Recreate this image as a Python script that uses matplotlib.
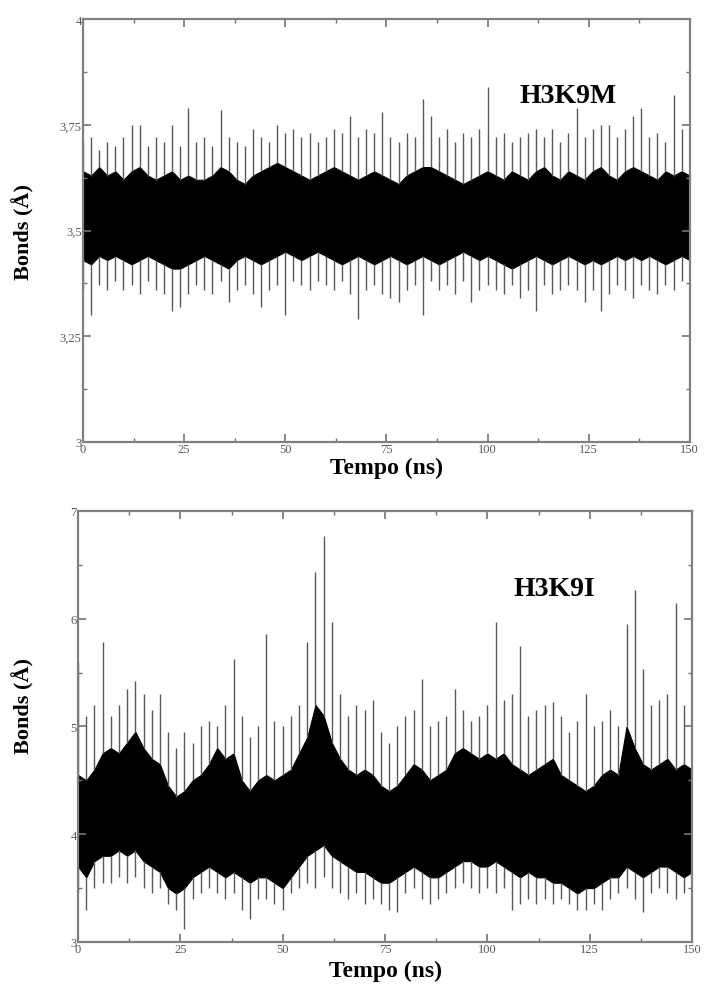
import numpy as np
import matplotlib
matplotlib.use('Agg')
import matplotlib.pyplot as plt
from matplotlib.ticker import MultipleLocator, FuncFormatter

plt.rcParams['font.family'] = ['Liberation Serif', 'DejaVu Serif']

# time axis (ns), one value every 2 ns
time_ns = np.arange(0, 151, 2)

# H3K9M: dense band (lo/hi) and spike extremes
m_core_hi = [3.64, 3.63, 3.65, 3.63, 3.64, 3.62, 3.64, 3.65, 3.63, 3.62,
             3.63, 3.64, 3.62, 3.63, 3.62, 3.62, 3.63, 3.65, 3.64, 3.62,
             3.61, 3.63, 3.64, 3.65, 3.66, 3.65, 3.64, 3.63, 3.62, 3.63,
             3.64, 3.65, 3.64, 3.63, 3.62, 3.63, 3.64, 3.63, 3.62, 3.61,
             3.63, 3.64, 3.65, 3.65, 3.64, 3.63, 3.62, 3.61, 3.62, 3.63,
             3.64, 3.63, 3.62, 3.64, 3.63, 3.62, 3.64, 3.65, 3.63, 3.62,
             3.64, 3.63, 3.62, 3.64, 3.65, 3.63, 3.62, 3.64, 3.65, 3.64,
             3.63, 3.62, 3.64, 3.63, 3.64, 3.63]
m_core_lo = [3.43, 3.42, 3.44, 3.43, 3.44, 3.43, 3.42, 3.43, 3.44, 3.43,
             3.42, 3.41, 3.41, 3.42, 3.43, 3.44, 3.43, 3.42, 3.41, 3.43,
             3.44, 3.43, 3.42, 3.43, 3.44, 3.45, 3.44, 3.43, 3.44, 3.45,
             3.44, 3.43, 3.42, 3.43, 3.44, 3.43, 3.42, 3.43, 3.44, 3.43,
             3.42, 3.43, 3.44, 3.43, 3.42, 3.43, 3.44, 3.45, 3.44, 3.43,
             3.44, 3.43, 3.42, 3.41, 3.42, 3.43, 3.44, 3.43, 3.42, 3.43,
             3.44, 3.43, 3.42, 3.43, 3.42, 3.43, 3.44, 3.43, 3.44, 3.43,
             3.44, 3.43, 3.42, 3.43, 3.44, 3.43]
m_spike_hi = [3.71, 3.72, 3.69, 3.71, 3.70, 3.72, 3.75, 3.75, 3.70, 3.72,
              3.71, 3.75, 3.70, 3.79, 3.71, 3.72, 3.70, 3.785, 3.72, 3.71,
              3.70, 3.74, 3.72, 3.71, 3.75, 3.73, 3.74, 3.72, 3.73, 3.71,
              3.72, 3.74, 3.73, 3.77, 3.72, 3.74, 3.73, 3.78, 3.72, 3.71,
              3.73, 3.72, 3.81, 3.77, 3.72, 3.74, 3.71, 3.73, 3.72, 3.74,
              3.84, 3.72, 3.73, 3.71, 3.72, 3.73, 3.74, 3.72, 3.74, 3.71,
              3.73, 3.79, 3.72, 3.74, 3.75, 3.75, 3.72, 3.74, 3.77, 3.79,
              3.72, 3.73, 3.71, 3.82, 3.74, 3.73]
m_spike_lo = [3.36, 3.30, 3.37, 3.36, 3.38, 3.36, 3.37, 3.35, 3.38, 3.36,
              3.35, 3.31, 3.32, 3.35, 3.37, 3.36, 3.35, 3.38, 3.33, 3.36,
              3.37, 3.35, 3.32, 3.36, 3.37, 3.30, 3.38, 3.37, 3.36, 3.38,
              3.37, 3.36, 3.38, 3.35, 3.29, 3.36, 3.37, 3.35, 3.34, 3.33,
              3.36, 3.37, 3.30, 3.38, 3.36, 3.37, 3.35, 3.38, 3.33, 3.36,
              3.37, 3.36, 3.35, 3.37, 3.34, 3.36, 3.31, 3.37, 3.35, 3.36,
              3.37, 3.36, 3.33, 3.36, 3.31, 3.35, 3.37, 3.36, 3.34, 3.37,
              3.36, 3.35, 3.37, 3.36, 3.38, 3.37]

# H3K9I
i_core_hi = [4.55, 4.50, 4.60, 4.75, 4.80, 4.75, 4.85, 4.95, 4.80, 4.70,
             4.65, 4.45, 4.35, 4.40, 4.50, 4.55, 4.65, 4.80, 4.70, 4.75,
             4.50, 4.40, 4.50, 4.55, 4.50, 4.55, 4.60, 4.75, 4.90, 5.20,
             5.10, 4.85, 4.70, 4.60, 4.55, 4.60, 4.55, 4.45, 4.40, 4.45,
             4.55, 4.65, 4.60, 4.50, 4.55, 4.60, 4.75, 4.80, 4.75, 4.70,
             4.75, 4.70, 4.75, 4.65, 4.60, 4.55, 4.60, 4.65, 4.70, 4.55,
             4.50, 4.45, 4.40, 4.45, 4.55, 4.60, 4.55, 5.00, 4.80, 4.65,
             4.60, 4.65, 4.70, 4.60, 4.65, 4.60]
i_core_lo = [3.70, 3.60, 3.75, 3.80, 3.80, 3.85, 3.80, 3.85, 3.75, 3.70,
             3.65, 3.50, 3.45, 3.50, 3.60, 3.65, 3.70, 3.65, 3.60, 3.65,
             3.60, 3.55, 3.60, 3.60, 3.55, 3.50, 3.60, 3.70, 3.80, 3.85,
             3.90, 3.80, 3.75, 3.70, 3.65, 3.65, 3.60, 3.55, 3.55, 3.60,
             3.65, 3.70, 3.65, 3.60, 3.60, 3.65, 3.70, 3.75, 3.75, 3.70,
             3.70, 3.75, 3.70, 3.65, 3.60, 3.65, 3.60, 3.60, 3.55, 3.55,
             3.50, 3.45, 3.50, 3.50, 3.55, 3.60, 3.60, 3.70, 3.65, 3.60,
             3.65, 3.70, 3.70, 3.65, 3.60, 3.65]
i_spike_hi = [5.60, 5.10, 5.20, 5.78, 5.10, 5.20, 5.35, 5.42, 5.30, 5.15,
              5.30, 4.95, 4.80, 4.95, 4.85, 5.00, 5.05, 5.00, 5.20, 5.63,
              5.10, 4.90, 5.00, 5.86, 5.05, 5.00, 5.10, 5.20, 5.78, 6.43,
              6.77, 5.97, 5.30, 5.10, 5.20, 5.15, 5.25, 4.95, 4.85, 5.00,
              5.10, 5.15, 5.44, 5.00, 5.05, 5.10, 5.35, 5.15, 5.05, 5.10,
              5.20, 5.97, 5.25, 5.30, 5.75, 5.10, 5.15, 5.20, 5.23, 5.10,
              4.95, 5.05, 5.30, 5.00, 5.05, 5.15, 5.00, 5.95, 6.27, 5.53,
              5.20, 5.25, 5.30, 6.15, 5.20, 5.69]
i_spike_lo = [3.45, 3.30, 3.50, 3.55, 3.55, 3.60, 3.55, 3.60, 3.50, 3.45,
              3.50, 3.35, 3.30, 3.12, 3.40, 3.45, 3.50, 3.45, 3.40, 3.45,
              3.30, 3.21, 3.40, 3.40, 3.35, 3.30, 3.45, 3.50, 3.55, 3.50,
              3.60, 3.50, 3.45, 3.40, 3.45, 3.35, 3.40, 3.35, 3.30, 3.28,
              3.45, 3.50, 3.40, 3.35, 3.40, 3.45, 3.50, 3.55, 3.50, 3.45,
              3.50, 3.45, 3.50, 3.30, 3.35, 3.40, 3.35, 3.40, 3.35, 3.40,
              3.35, 3.30, 3.30, 3.35, 3.30, 3.40, 3.45, 3.50, 3.40, 3.28,
              3.45, 3.50, 3.45, 3.40, 3.45, 3.50]


def comma_fmt(v, pos):
    return ('%g' % v).replace('.', ',')


def draw_panel(ax, core_lo, core_hi, spike_lo, spike_hi, title, ylim, ymajor):
    ax.fill_between(time_ns, core_lo, core_hi, color='black', lw=0.8, edgecolor='black')
    ax.vlines(time_ns, core_hi, spike_hi, color='0.35', lw=1.0)
    ax.vlines(time_ns, spike_lo, core_lo, color='0.35', lw=1.0)
    ax.set_xlim(0, 150)
    ax.set_ylim(*ylim)
    ax.xaxis.set_major_locator(MultipleLocator(25))
    ax.xaxis.set_minor_locator(MultipleLocator(12.5))
    ax.yaxis.set_major_locator(MultipleLocator(ymajor))
    ax.yaxis.set_minor_locator(MultipleLocator(ymajor / 2))
    ax.yaxis.set_major_formatter(FuncFormatter(comma_fmt))
    ax.tick_params(which='both', direction='in', top=True, right=True,
                   colors='0.45', labelcolor='0.35', labelsize=9, pad=1)
    ax.tick_params(which='major', length=6, width=1.2)
    ax.tick_params(which='minor', length=3, width=1.0)
    for sp in ax.spines.values():
        sp.set_color('0.5')
        sp.set_linewidth(1.6)
    ax.set_xlabel('Tempo (ns)', fontsize=17, fontweight='bold')
    ax.set_ylabel('Bonds (Å)', fontsize=16, fontweight='bold')
    ax.text(0.80, 0.82, title, transform=ax.transAxes, fontsize=20,
            fontweight='bold', ha='center', va='center')


fig = plt.figure(figsize=(7.06, 9.87), dpi=100)
ax1 = fig.add_axes([0.1176, 0.5512, 0.8594, 0.4285])
ax2 = fig.add_axes([0.1105, 0.0446, 0.8697, 0.4367])

draw_panel(ax1, m_core_lo, m_core_hi, m_spike_lo, m_spike_hi, 'H3K9M', (3, 4), 0.25)
draw_panel(ax2, i_core_lo, i_core_hi, i_spike_lo, i_spike_hi, 'H3K9I', (3, 7), 1)
ax2.texts[0].set_x(0.775)

ax1.xaxis.set_label_coords(0.5, -0.036)
ax2.xaxis.set_label_coords(0.5, -0.042)
ax1.yaxis.set_label_coords(-0.08, 0.5)
ax2.yaxis.set_label_coords(-0.071, 0.55)

fig.savefig('out.png', dpi=100)
